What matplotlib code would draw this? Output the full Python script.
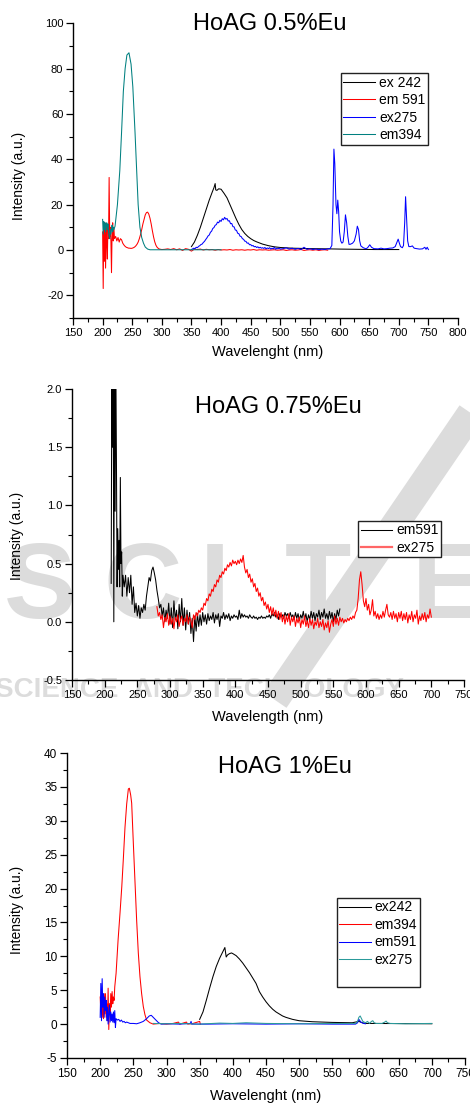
import numpy as np
import matplotlib
matplotlib.use("Agg")
import matplotlib.pyplot as plt
from matplotlib.ticker import MultipleLocator
from matplotlib.lines import Line2D

plt.rcParams['font.family'] = ['Liberation Sans', 'DejaVu Sans']
plt.rcParams['axes.unicode_minus'] = False

# ---------------- HoAG 0.5%Eu ----------------
p1_ex242_x = [350, 355, 360, 365, 370, 375, 380, 385, 388, 390, 391, 393, 396, 400, 405, 410, 415, 420,
              425, 430, 435, 440, 445, 450, 455, 460, 470, 480, 490, 500, 520, 550, 580, 600, 630, 660, 700]
p1_ex242_y = [1.5, 3.5, 6.5, 10, 14, 18, 22, 25.5, 27.5, 29.3, 26.5, 26.3, 27, 26.8, 25, 23, 20, 17,
              14, 11.3, 9, 7.3, 6, 5, 4.2, 3.6, 2.6, 1.9, 1.4, 1.1, 0.8, 0.6, 0.5, 0.4, 0.3, 0.2, 0.2]

p1_em591_x = list(range(200, 221)) + list(range(222, 301, 2)) + list(range(305, 581, 5))
p1_em591_y = [8, -17, 12, -5, 12, -8, 10, 3, -4, 11, 5, 32, 6, 10, 4, -10, 8, 12, 4, 10, 5,
              6, 4, 5.5, 3.5, 5, 4.5, 3, 2.2, 1.6, 1.2, 1.0, 0.8, 0.8, 0.7, 0.8, 1.0, 1.3, 1.8, 2.5, 3.5,
              5, 6.8, 9, 11.5, 13.5, 15.5, 16.5, 16.7, 15.8, 14, 11.5, 8.5, 5.8, 3.6, 2.1, 1.2, 0.7, 0.4, 0.3, 0.2,
              0.3, 0.5, 0.2, 0.6, 0.1, 0.5, -0.2, 0.6, 0.3, -0.5, 0.4, 0.2, 0.4, 0.0, 0.3, 0.1, 0.2, -0.1, 0.2, 0.0,
              0.1, 0.0, 0.2, -0.1, 0.1, 0.0, 0.1, -0.1, 0.1, 0.0, 0.2, -0.1, 0.1, 0.0, 0.1, -0.1, 0.0, 0.1, -0.1, 0.0,
              0.1, -0.2, 0.0, 0.1, -0.1, 0.0, 0.2, -0.2, 0.0, 0.1, -0.1, 0.1, -0.2, 0.0, 0.1, -0.1]

p1_ex275_x = list(range(350, 501, 2)) + [505, 510, 515, 520, 525, 530, 535, 540, 545, 550, 555, 560, 565,
              570, 575, 580, 584, 587, 589, 590.5, 592, 594, 595.5, 597, 598.5, 600, 602, 604, 606, 608,
              610, 612, 614, 616, 618, 622, 625, 628, 630, 632, 634, 636, 640, 645, 648, 651, 654, 658,
              665, 670, 675, 680, 685, 690, 694, 697, 699, 701, 703, 706, 708, 710, 711.5, 713, 715, 717,
              720, 723, 726, 730, 735, 740, 744, 746, 748, 750]
p1_ex275_y = [0.2, 0.5, 0.8, 0.6, 1.2, 1.0, 1.6, 1.9, 2.4, 2.6, 3.3, 3.8, 4.6, 5.3, 6.2, 6.6, 7.8, 8.3,
              9.5, 9.9, 10.9, 11.2, 12.3, 12.0, 13.1, 12.6, 13.8, 13.3, 14.4, 13.6, 13.9, 12.8, 12.9, 11.6,
              11.7, 10.3, 10.2, 8.8, 8.7, 7.4, 7.2, 6.1, 5.9, 5.0, 4.7, 3.9, 3.8, 3.0, 3.1, 2.3, 2.4, 1.8,
              2.0, 1.4, 1.6, 1.1, 1.4, 0.9, 1.2, 0.8, 1.0, 0.7, 1.1, 0.5, 0.9, 0.6, 1.0, 0.4, 0.8, 0.5,
              1.2, 0.3, 0.7, 0.5, 0.9, 0.4,
              0.6, 1.0, 0.4, 0.8, 0.3, 0.7, 0.2, 1.2, 0.3, 0.6, 0.2, 0.5, 0.1,
              0.4, 0.2, 0.5, 0.6, 2, 20, 44.5, 38, 20, 16, 22, 17, 8, 4, 3, 3.5, 8,
              15.5, 12, 6, 2.5, 2.5, 3, 4, 7, 10.5, 9, 4, 1.8, 1, 0.5, 1.2, 2.3, 1.2, 0.6,
              0.5, 0.8, 0.5, 0.6, 0.8, 0.9, 1.5, 3.5, 4.8, 3, 1.5, 1, 2, 12, 23.5, 15, 4, 1.5,
              1.5, 1.8, 0.8, 0.6, 0.4, 0.5, 1.2, 0.3, 1.2, 0.2]

p1_em394_x = [200, 201, 202, 203, 204, 205, 206, 207, 208, 209, 210, 211, 212, 213, 214, 215, 216, 217,
              218, 219, 221, 225, 229, 232, 235, 238, 241, 244.5, 248, 251, 254.7, 257, 260, 263, 266,
              269, 272, 276, 280, 300, 350, 400]
p1_em394_y = [13.5, 7, 12.5, 9, 12, 8, 11, 12, 9, 11.5, 8, 6, 5, 9, 7, 9, 11, 8,
              10, 9, 10.5, 20, 35, 52, 70, 80, 86, 87, 82, 72, 52, 38, 20, 10, 5.5,
              3, 1.3, 0.4, 0.1, 0.1, 0.1, 0.1]

# ---------------- HoAG 0.75%Eu ----------------
p2_em591_a = [0.33, 2.3, 1.5, 2.3, 0.0, 2.3, 0.95, 2.3, 1.4, 0.3, 0.8, 0.45, 0.7, 0.3, 1.24, 0.5,
              0.6, 0.22, 0.4, 0.35]  # 210..229 nm
p2_em591_b = [0.3, 0.4, 0.22, 0.38, 0.25, 0.4, 0.15, 0.3, 0.08, 0.16, 0.05, 0.14, 0.03, 0.12, 0.08,
              0.15, 0.1, 0.22, 0.3, 0.38, 0.35, 0.44, 0.47, 0.42, 0.36, 0.27, 0.2, 0.12, 0.15, 0.05,
              0.12, 0.0, 0.1, 0.03, 0.16, -0.02, 0.12, -0.05, 0.18, 0.02, 0.1, -0.06, 0.15, 0.0, 0.2,
              -0.03, 0.12, -0.07, 0.1, -0.02, 0.08, -0.1, 0.03, -0.17, 0.05, -0.08, 0.07, -0.04, 0.06,
              -0.03, 0.08, 0.0, 0.06, -0.02, 0.07, 0.01, 0.05, 0.02, 0.08, -0.01, 0.06, 0.02, 0.07,
              -0.04, 0.05, 0.03, 0.08, 0.02, 0.06, 0.03, 0.07, 0.01, 0.05, 0.03, 0.06, 0.04, 0.05, 0.02,
              0.1, 0.03, 0.07, 0.04, 0.06, 0.04, 0.05, 0.03, 0.06, 0.04, 0.03, 0.05, 0.03, 0.04, 0.02,
              0.04, 0.03, 0.05, 0.03, 0.04, 0.03, 0.05, 0.04, 0.06, 0.03, 0.07, 0.05, 0.08, 0.04, 0.06,
              0.02, 0.07, 0.04, 0.06, 0.03, 0.08, 0.05, 0.07, 0.03, 0.08, 0.04, 0.06, 0.02, 0.08, 0.03,
              0.07, 0.01, 0.06, 0.03, 0.09, 0.02, 0.07, 0.0, 0.06, 0.02, 0.09, 0.03, 0.08, 0.01, 0.07,
              0.04, 0.1, 0.02, 0.08, 0.04, 0.11, 0.03, 0.07, 0.02, 0.09, 0.03, 0.08, 0.0, 0.07, 0.02,
              0.1, 0.05, 0.11]  # 230..560 nm
p2_ex275 = [0.13, 0.05, 0.08, 0.02, 0.06, -0.05, 0.04, 0.00, 0.07, -0.03, 0.05, -0.02, 0.03, -0.06,
            0.04, 0.00, 0.06, -0.04, 0.02, 0.05, -0.03, 0.03, 0.00, 0.06, -0.02, 0.04, 0.01, -0.05,
            0.06, 0.02, 0.08,
            0.05, 0.10, 0.08, 0.12, 0.10, 0.16, 0.14, 0.20, 0.18, 0.24, 0.22, 0.28, 0.26, 0.32, 0.30,
            0.36, 0.34, 0.40, 0.38, 0.43, 0.41, 0.46, 0.44, 0.49, 0.47, 0.51, 0.48, 0.53, 0.50, 0.52,
            0.49, 0.53, 0.50, 0.54, 0.51, 0.57,
            0.47, 0.42, 0.45, 0.38, 0.41, 0.34, 0.37, 0.30, 0.33, 0.26, 0.29, 0.22, 0.25, 0.18, 0.21,
            0.14, 0.17, 0.11, 0.15, 0.08, 0.13, 0.06, 0.12, 0.05, 0.10, 0.03, 0.09, 0.02, 0.08, 0.00,
            0.06, -0.02, 0.05, 0.00,
            0.07, -0.03, 0.04, 0.00, 0.05, -0.04, 0.03, -0.01, 0.04, -0.05, 0.02, -0.02, 0.05, -0.04,
            0.01, -0.05, 0.03, -0.03, 0.02, -0.06, 0.00, -0.03, 0.03, -0.05, 0.00, -0.04, 0.02, -0.07,
            -0.01, -0.05, 0.01, -0.09, -0.02, 0.02, -0.04, 0.05, -0.02, 0.03, -0.03, 0.04, 0.00, 0.03,
            -0.01, 0.02, 0.00, 0.03, 0.01, 0.04, 0.02, 0.05, 0.03, 0.08,
            0.10, 0.20, 0.36, 0.43, 0.32, 0.18, 0.13, 0.20, 0.10, 0.15, 0.06, 0.10, 0.19, 0.05, 0.09,
            0.03, 0.07, 0.02, 0.06, 0.03, 0.09, 0.04, 0.10, 0.15, 0.06, 0.04, 0.08, 0.02, 0.09, 0.03,
            0.07, 0.00, 0.08, 0.03, 0.09, 0.01, 0.07, 0.02, 0.08, -0.01, 0.06, 0.02, 0.09, 0.00, 0.06,
            0.03, 0.10, -0.02, 0.05, 0.01, 0.07, 0.02, 0.08, 0.00, 0.06, 0.03, 0.11, 0.04]  # 280..700 nm

# ---------------- HoAG 1%Eu ----------------
p3_ex242_x = [350, 355, 360, 365, 370, 375, 380, 385, 388, 390, 392, 395, 398, 400, 405, 410, 415, 420,
              425, 430, 435, 440, 445, 450, 455, 460, 465, 470, 475, 480, 490, 500, 520, 550, 580, 590,
              595, 600, 650, 700]
p3_ex242_y = [0.7, 1.8, 3.5, 5.3, 7.0, 8.5, 9.7, 10.7, 11.3, 9.9, 10.2, 10.4, 10.5, 10.4, 10.1, 9.6,
              9.0, 8.3, 7.6, 6.8, 6.0, 4.8, 4.0, 3.3, 2.7, 2.2, 1.8, 1.5, 1.2, 1.0, 0.7, 0.5, 0.35, 0.25,
              0.2, 0.4, 0.2, 0.1, 0.08, 0.05]

p3_em394_x = [200, 201, 202, 203, 204, 205, 206, 207, 208, 209, 210, 211, 212, 213, 214, 215, 216, 217,
              218, 219, 220, 221, 222, 224, 227, 230, 232.6, 235, 237.4, 240, 242.5, 244, 246, 247.5, 250,
              252.5, 255, 257.5, 260, 262.5, 265, 267.5, 270, 275, 280, 290, 300, 310, 318, 320, 330,
              332, 340, 350, 351]
p3_em394_y = [4, 2, 4.5, 1, 3.5, 0.8, 4.5, 1.5, 4.5, 1, 3, 0.5, 5.3, -0.8, 3, 1.5, 4.5, 2.5,
              4.8, 3, 4, 3.5, 5.5, 7.5, 12.4, 16.5, 20.3, 24.5, 29, 32.5, 34.7, 34.8, 33.8, 32.6, 26.7,
              21, 15.3, 10.5, 7, 4.5, 2.6, 1.4, 0.6, 0.2, 0.0, 0.1, 0.0, 0.1, 0.3, 0.0, 0.3,
              0.0, 0.1, 0.4, 0.0]

p3_em591_x = [200, 201, 202, 203, 204, 205, 206, 207, 208, 209, 210, 211, 212, 213, 214, 215, 216, 217,
              218, 219, 220, 221, 222, 223, 224, 226, 228, 230, 232, 234, 236, 238, 240, 245, 250, 255,
              260, 265, 270, 274, 277, 280, 284, 288, 292, 300, 320, 336, 337, 338, 360, 400, 450, 500,
              550, 585, 588, 590, 593, 597, 600]
p3_em591_y = [1, 6, 0.5, 6.7, 2.5, 4.5, 1, 4, 2, 3.5, 0.5, 2.5, 0, 1.5, 2.8, 0.3, 1.8, 0.5,
              1.5, 0.3, 1.8, 0.2, 2, -0.5, 0.8, 0.6, 0.7, 0.4, 0.6, 0.3, 0.4, 0.2, 0.3, 0.1, 0.1, 0.05,
              0.2, 0.4, 0.8, 1.2, 1.3, 1.0, 0.6, 0.2, 0.0, 0.05, 0.0, 0.1, 0.4, 0.0, 0.0, 0.05, 0.0, 0.05,
              0.0, 0.0, 0.2, 0.7, 0.3, 0.1, 0.05]

p3_ex275_x = [280, 300, 320, 350, 380, 400, 420, 450, 500, 550, 585, 588, 590, 592, 594, 596, 598, 600,
              603, 606, 609, 611, 613, 616, 625, 629, 631, 633, 637, 660, 700]
p3_ex275_y = [0.1, 0.05, 0.1, 0.0, 0.15, 0.1, 0.2, 0.1, 0.05, 0.1, 0.1, 0.4, 1.0, 1.2, 0.8, 0.4, 0.3, 0.2,
              0.4, 0.1, 0.4, 0.5, 0.2, 0.1, 0.1, 0.3, 0.45, 0.2, 0.1, 0.05, 0.1]

TEAL1 = '#008080'
TEAL3 = '#2a9a9a'
LW = 0.75
W, H = 470, 1104


def fx(px):
    return px / W


def fy(py):
    return 1 - py / H


def setup(ax, xmax, ylim, ymaj, ymin, fs):
    ax.set_facecolor('none')
    ax.set_xlim(150, xmax)
    ax.set_ylim(*ylim)
    ax.xaxis.set_major_locator(MultipleLocator(50))
    ax.xaxis.set_minor_locator(MultipleLocator(25))
    ax.yaxis.set_major_locator(MultipleLocator(ymaj))
    ax.yaxis.set_minor_locator(MultipleLocator(ymin))
    for s in ['top', 'right']:
        ax.spines[s].set_visible(False)
    for s in ['left', 'bottom']:
        ax.spines[s].set_linewidth(1.0)
    ax.tick_params(which='major', direction='out', length=5, width=0.9, labelsize=fs, pad=2)
    ax.tick_params(which='minor', direction='out', length=3, width=0.8)


def legend(ax, anchor, fs=10):
    leg = ax.legend(loc='upper left', bbox_to_anchor=anchor, borderaxespad=0, fontsize=fs,
                    fancybox=False, edgecolor='#222222', framealpha=1, handlelength=2.3,
                    handletextpad=0.25, labelspacing=0.25, borderpad=0.18)
    leg.get_frame().set_linewidth(1.0)
    return leg


fig = plt.figure(figsize=(4.7, 11.04), dpi=100)

# watermark of the source page, light grey behind the middle panel
WM = '#dcdcdc'
for ch, cx in zip("SCITE", [40, 143, 215, 318, 448]):
    fig.text(fx(cx), fy(590), ch, fontsize=78, fontweight='bold', color=WM,
             ha='center', va='center', zorder=-5)
fig.text(fx(-5), fy(690), "SCIENCE  AND  TECHNOLOGY", fontsize=20, fontweight='bold', color=WM,
         ha='left', va='center', zorder=-5)
fig.add_artist(Line2D([fx(480), fx(275)], [fy(400), fy(700)], lw=20, color=WM, zorder=-5,
                      solid_capstyle='butt'))

# panel 1
ax1 = fig.add_axes([fx(73), fy(318), fx(458) - fx(73), fy(23.3) - fy(318)])
setup(ax1, 800, (-30, 100), 20, 10, 8)
ax1.set_xticks(np.arange(150, 801, 50))
ax1.plot(p1_ex242_x, p1_ex242_y, color='black', lw=LW, label='ex 242')
ax1.plot(p1_em591_x, p1_em591_y, color='red', lw=LW, label='em 591')
ax1.plot(p1_ex275_x, p1_ex275_y, color='blue', lw=LW, label='ex275')
ax1.plot(p1_em394_x, p1_em394_y, color=TEAL1, lw=LW, label='em394')
legend(ax1, (0.696, 0.831))
fig.text(fx(270), fy(24), 'HoAG 0.5%Eu', fontsize=17, ha='center', va='center')
fig.text(fx(19), fy(176), 'Intensity (a.u.)', fontsize=10, rotation=90, ha='center', va='center')
fig.text(fx(268), fy(352), 'Wavelenght (nm)', fontsize=10.5, ha='center', va='center')

# panel 2
ax2 = fig.add_axes([fx(72), fy(680), fx(464) - fx(72), fy(389) - fy(680)])
setup(ax2, 750, (-0.5, 2.0), 0.5, 0.25, 8)
ax2.yaxis.set_major_formatter(plt.FormatStrFormatter('%.1f'))
x2a = np.arange(210, 210 + len(p2_em591_a))
x2b = np.linspace(230, 560, len(p2_em591_b))
ax2.plot(np.concatenate([x2a, x2b]), p2_em591_a + p2_em591_b, color='black', lw=LW, label='em591')
ax2.plot(np.linspace(280, 700, len(p2_ex275)), p2_ex275, color='red', lw=LW, label='ex275')
leg2 = legend(ax2, (0.7296, 0.5464))
leg2.get_lines()[1].set_linewidth(1.6)
leg2.get_lines()[1].set_alpha(0.6)
fig.text(fx(278), fy(407), 'HoAG 0.75%Eu', fontsize=17, ha='center', va='center')
fig.text(fx(17), fy(536), 'Intensity (a.u.)', fontsize=10, rotation=90, ha='center', va='center')
fig.text(fx(268), fy(717), 'Wavelength (nm)', fontsize=10.5, ha='center', va='center')

# panel 3
ax3 = fig.add_axes([fx(67), fy(1058), fx(465) - fx(67), fy(753) - fy(1058)])
setup(ax3, 750, (-5, 40), 5, 2.5, 8.5)
ax3.plot(p3_ex242_x, p3_ex242_y, color='black', lw=LW, label='ex242')
ax3.plot(p3_em394_x, p3_em394_y, color='red', lw=LW, label='em394')
ax3.plot(p3_em591_x, p3_em591_y, color='blue', lw=LW, label='em591')
ax3.plot(p3_ex275_x, p3_ex275_y, color=TEAL3, lw=LW, label='ex275')
ax3.plot([], [], color='none', label=' ')
legend(ax3, (0.678, 0.5246))
fig.text(fx(285), fy(767), 'HoAG 1%Eu', fontsize=17, ha='center', va='center')
fig.text(fx(17), fy(910), 'Intensity (a.u.)', fontsize=10, rotation=90, ha='center', va='center')
fig.text(fx(266), fy(1096), 'Wavelenght (nm)', fontsize=10.5, ha='center', va='center')

fig.savefig('out.png', dpi=100)
